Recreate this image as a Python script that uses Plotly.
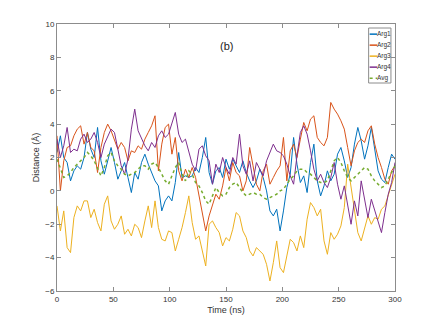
import plotly.graph_objects as go

time_ns = list(range(0, 301, 3))

arg1 = [2.3, 3.3, 2.0, 1.7, 0.6, 1.2, 1.5, 1.3, 2.0, 3.5,
        2.5, 2.0, 3.8, 1.8, 1.0, 1.9, 2.6, 1.7, 0.7, 1.2,
        1.7, 0.8, -0.1, 1.1, 0.7, 1.7, 2.2, 1.6, 1.1, 0.6,
        0.3, -1.2, -0.6, -0.3, -0.6, 0.5, 2.3, 0.8, 0.9, 0.8,
        0.9, 1.4, 1.1, 2.0, 3.2, 1.1, 0.4, 1.2, 1.4, 0.8,
        1.9, 1.3, 1.9, 1.5, 1.1, 1.8, 1.1, 0.6, 0.2, 0.6,
        1.3, 0.8, 0.0, -1.2, -1.5, -1.1, -2.4, -1.2, 0.2, 1.0,
        3.2, 1.6, 0.5, 0.9, -0.1, 1.7, 2.8, 0.6, -0.3, 0.3,
        1.2, 0.6, 1.0, 2.2, 2.6, 1.8, 0.8, 1.4, 2.8, 3.8,
        3.0, 1.9, 2.7, 3.8, 2.4, 1.2, 0.7, 0.5, 1.4, 2.2,
        1.9]

arg2 = [3.3, 0.0, 1.8, 2.6, 2.7, 3.3, 3.7, 3.9, 2.8, 3.5,
        2.6, 2.4, 1.1, 2.6, 3.5, 4.0, 3.6, 3.0, 2.5, 2.9,
        2.6, 1.8, 2.4, 2.3, 2.7, 2.5, 3.1, 3.5, 3.9, 4.5,
        1.2, 2.8, 3.8, 4.0, 2.2, 3.2, 1.2, 0.6, 1.3, 0.8,
        1.4, 0.8, -0.3, -1.2, -2.4, -1.5, -0.8, -0.2, -0.5, 0.3,
        1.4, 0.6, 1.7, 1.1, 0.9, 0.0, 0.6, 2.6, 1.5, 0.4,
        0.0, 1.2, 1.6, 0.4, 0.8, 1.2, 1.5, 3.2, 0.6, 2.4,
        2.8, 2.0, 3.1, 4.1, 3.6, 4.3, 4.5, 3.2, 2.9, 2.7,
        3.2, 5.3, 4.9, 4.6, 4.2, 3.7, 2.6, 1.5, 2.4, 2.9,
        3.1, 2.9, 3.6, 3.9, 2.8, 2.0, 1.4, 0.7, 0.4, 1.2,
        1.5]

arg3 = [-0.9, -2.4, -1.2, -3.4, -3.7, -1.6, -0.9, -1.2, -0.6, -0.6,
        -1.6, -1.1, -1.9, -2.4, -0.8, -0.3, -1.8, -2.3, -2.0, -1.5,
        -2.6, -2.3, -2.7, -2.0, -2.2, -2.8, -1.8, -0.9, -2.2, -0.6,
        -2.2, -2.9, -3.0, -2.4, -2.5, -3.6, -2.9, -2.2, -1.3, -0.3,
        -1.9, -2.9, -2.7, -3.6, -4.5, -2.0, -1.8, -2.2, -2.5, -3.3,
        -2.8, -3.0, -2.3, -1.3, -1.5, -2.4, -2.8, -3.6, -3.9, -3.4,
        -3.6, -3.8, -4.4, -5.4, -4.3, -3.0, -4.6, -4.9, -3.9, -2.9,
        -3.1, -3.6, -2.7, -3.4, -1.7, -0.7, -1.0, -1.5, -1.1, -3.0,
        -3.8, -2.5, -2.9, -2.6, -2.1, -1.0, 1.6, 0.3, -1.2, -2.5,
        -3.0, -2.2, -1.5, -2.0, -1.6, -1.7, -1.1, -0.9, -0.3, 0.4,
        1.0]

arg4 = [3.1, 2.0, 2.7, 3.8, 2.3, 2.5, 2.4, 3.1, 3.4, 2.9,
        3.1, 3.5, 2.9, 2.0, 2.8, 3.3, 3.7, 3.5, 2.4, 1.5,
        1.0, 1.9, 3.7, 4.9, 3.6, 3.1, 2.7, 2.4, 2.9, 2.6,
        3.3, 3.6, 3.2, 3.4, 4.1, 4.7, 3.4, 2.9, 3.1, 2.4,
        1.6, 1.2, 2.5, 2.7, 2.1, 1.8, 0.4, 1.6, 1.1, 2.0,
        1.4, 1.0, 2.0, 1.6, 3.4, 1.5, 1.0, 1.8, 0.6, 1.7,
        1.3, 0.9, 1.8, 2.3, 2.8, 2.4, 2.3, 2.1, 1.6, 0.9,
        0.4, 2.1, 3.5, 3.9, 3.4, 2.4, 1.3, 0.6, 1.0, 0.5,
        0.2, 0.8, 1.7, 0.4, -0.5, 0.3, -0.9, -2.0, -0.6, -1.5,
        0.6, -0.4, -1.6, -0.5, -1.2, -1.8, -2.5, -1.3, -0.2, 0.5,
        1.7]

avg = [1.9, 1.3, 0.8, 0.9, 1.1, 1.4, 1.6, 1.8, 2.0, 2.3,
       2.1, 1.8, 1.3, 0.9, 1.4, 2.1, 2.3, 1.8, 1.5, 1.3,
       1.0, 0.9, 1.0, 1.1, 1.3, 1.5, 1.5, 1.3, 1.6, 1.7,
       1.4, 1.0, 0.6, 0.4, 0.9, 1.4, 1.7, 1.0, 0.6, 1.2,
       1.0, 0.5, 0.3, -0.1, -0.6, -0.8, -0.3, 0.2, -0.1, -0.3,
       -0.2, 0.2, 0.4, 0.5, 0.2, -0.1, -0.3, -0.2, -0.1, -0.2,
       -0.2, -0.4, -0.5, -0.4, -0.3, -0.2, 0.0, 0.1, 0.4, 0.7,
       0.9, 1.2, 1.3, 1.3, 1.1, 1.0, 0.8, 0.6, 0.5, 0.5,
       0.6, 1.2, 1.8, 2.0, 1.7, 1.2, 0.8, 0.6, 0.8, 1.0,
       1.2, 1.4, 1.3, 0.9, 0.6, 0.4, 0.2, 0.3, 0.7, 1.1,
       1.5]

series_names = ["Arg1", "Arg2", "Arg3", "Arg4", "Avg"]
x_ticks = [0, 50, 100, 150, 200, 250, 300]
y_ticks = [-6, -4, -2, 0, 2, 4, 6, 8, 10]

colors = ["#0072BD", "#D95319", "#EDB120", "#7E2F8E", "#77AC30"]
data = [arg1, arg2, arg3, arg4, avg]

fig = go.Figure()
for name, vals, col in zip(series_names, data, colors):
    dash = "dot" if name == "Avg" else "solid"
    width = 1.5 if name == "Avg" else 1
    fig.add_trace(go.Scatter(x=time_ns, y=vals, mode="lines", name=name,
                             showlegend=False,
                             line=dict(color=col, width=width, dash=dash)))

font_family = "Liberation Sans Narrow, Liberation Sans, Arial, sans-serif"
axis_common = dict(showline=True, linecolor="#8c8c8c", linewidth=1, mirror="ticks",
                   ticks="inside", ticklen=4, tickcolor="#8c8c8c", showgrid=False,
                   zeroline=False, automargin=False,
                   tickfont=dict(size=8, color="#333333", family=font_family))

# Compact MATLAB-style legend box (paper coordinates of the plot area)
leg_x0, leg_x1 = 0.922, 0.988
leg_y0, leg_y1 = 0.779, 0.985
row_step = 0.0412
first_row = 0.962
key_len = 0.022

shapes = [dict(type="rect", xref="paper", yref="paper", x0=leg_x0, x1=leg_x1,
               y0=leg_y0, y1=leg_y1, line=dict(color="#8c8c8c", width=1),
               fillcolor="white", layer="above")]
annotations = [dict(x=150, y=8.7, xref="x", yref="y", text="(b)", showarrow=False,
                    font=dict(size=11, color="#222222", family="Liberation Sans, Arial"))]
for i, (name, col) in enumerate(zip(series_names, colors)):
    yy = first_row - i * row_step
    dash = "dot" if name == "Avg" else "solid"
    shapes.append(dict(type="line", xref="paper", yref="paper",
                       x0=leg_x0 + 0.003, x1=leg_x0 + 0.003 + key_len, y0=yy, y1=yy,
                       line=dict(color=col, width=1.5, dash=dash), layer="above"))
    annotations.append(dict(x=leg_x0 + 0.003 + key_len, y=yy, xref="paper", yref="paper",
                            text=name, showarrow=False, xanchor="left", yanchor="middle",
                            borderpad=0, xshift=-1,
                            font=dict(size=6.5, color="#333333", family=font_family)))

fig.update_layout(
    width=428, height=319,
    margin=dict(l=49, r=41, t=16, b=36),
    paper_bgcolor="white", plot_bgcolor="white",
    font=dict(family=font_family, color="#333333"),
    xaxis=dict(range=[0, 300], tickvals=x_ticks,
               title=dict(text="Time (ns)", font=dict(size=9), standoff=4), **axis_common),
    yaxis=dict(range=[-6, 10], tickvals=y_ticks,
               title=dict(text="Distance (Å)", font=dict(size=9), standoff=4), **axis_common),
    showlegend=False,
    shapes=shapes,
    annotations=annotations,
)

fig.write_html("out.html", config={"displayModeBar": False})
